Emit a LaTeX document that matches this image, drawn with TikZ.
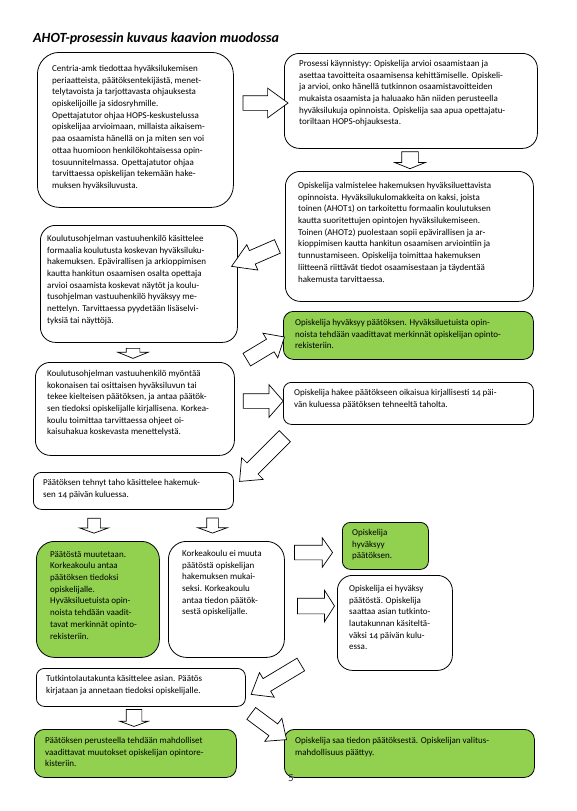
\documentclass[tikz,border=0pt]{standalone}
\usepackage{fontspec}
\setmainfont{Carlito}[Numbers=OldStyle]
\usetikzlibrary{shapes.arrows}
\definecolor{ahotgreen}{RGB}{146,208,80}
\definecolor{pagenum}{RGB}{40,45,80}

\begin{document}
\begin{tikzpicture}[x=1pt, y=-1pt,
  card/.style={draw, line width=0.8pt, rounded corners=#1, inner sep=0pt, anchor=north west},
  card/.default=14pt,
  txt/.style={inner sep=0pt, anchor=north west, align=left, font=\fontsize{9}{11.7}\selectfont},
  arr/.style={draw, fill=white, line width=0.7pt, single arrow, single arrow head indent=0pt, inner xsep=0pt, inner ysep=#1},
  arr/.default=7pt]
\useasboundingbox[fill=white] (0,0) rectangle (577,811);

\node[inner sep=0pt, anchor=base west, font=\fontsize{14}{16}\selectfont\bfseries\itshape] (title) at (33,42.5) {AHOT-prosessin kuvaus kaavion muodossa};

% boxes
\node[card=22pt, minimum width=196pt, minimum height=155pt] (centria) at (37,52) {};
\node[card=15pt, minimum width=253pt, minimum height=95pt] (start) at (284,53) {};
\node[card=15pt, minimum width=248pt, minimum height=130pt] (hakemus) at (285,171) {};
\node[card=15pt, minimum width=197pt, minimum height=117pt] (kasittely) at (40,225) {};
\node[card=15pt, minimum width=199pt, minimum height=93pt] (paatos) at (35,362) {};
\node[card=10pt, fill=ahotgreen, minimum width=250pt, minimum height=48pt] (hyvaksyy) at (283,311) {};
\node[card=8pt, minimum width=250pt, minimum height=42pt] (oikaisu) at (283,382) {};
\node[card=8pt, minimum width=200pt, minimum height=37pt] (taho) at (33,472) {};
\node[card=18pt, fill=ahotgreen, minimum width=123pt, minimum height=116pt] (muutetaan) at (36,541) {};
\node[card=18pt, minimum width=116pt, minimum height=116pt] (eimuuta) at (168,541) {};
\node[card=8pt, fill=ahotgreen, minimum width=86pt, minimum height=47pt] (hyvaksyytoinen) at (342,522) {};
\node[card=15pt, minimum width=115pt, minimum height=95pt] (eihyvaksy) at (337,575) {};
\node[card=8pt, minimum width=209pt, minimum height=38pt] (lautakunta) at (36,668) {};
\node[card=10pt, fill=ahotgreen, minimum width=202pt, minimum height=48pt] (rekisteri) at (34,729) {};
\node[card=10pt, fill=ahotgreen, minimum width=250pt, minimum height=48pt] (valitus) at (284,729) {};

% texts
\node[txt] (centriatext) at ([shift={(15,13)}]centria.north west) {Centria-amk tiedottaa hyväksilukemisen\\
periaatteista, päätöksentekijästä, menet-\\
telytavoista ja tarjottavasta ohjauksesta\\
opiskelijoille ja sidosryhmille.\\
Opettajatutor ohjaa HOPS-keskustelussa\\
opiskelijaa arvioimaan, millaista aikaisem-\\
paa osaamista hänellä on ja miten sen voi\\
ottaa huomioon henkilökohtaisessa opin-\\
tosuunnitelmassa. Opettajatutor ohjaa\\
tarvittaessa opiskelijan tekemään hake-\\
muksen hyväksiluvusta.};
\node[txt] (starttext) at ([shift={(15,7)}]start.north west) {Prosessi käynnistyy: Opiskelija arvioi osaamistaan ja\\
asettaa tavoitteita osaamisensa kehittämiselle. Opiskeli-\\
ja arvioi, onko hänellä tutkinnon osaamistavoitteiden\\
mukaista osaamista ja haluaako hän niiden perusteella\\
hyväksilukuja opinnoista. Opiskelija saa apua opettajatu-\\
toriltaan HOPS-ohjauksesta.};
\node[txt] (hakemustext) at ([shift={(13,11)}]hakemus.north west) {Opiskelija valmistelee hakemuksen hyväksiluettavista\\
opinnoista. Hyväksilukulomakkeita on kaksi, joista\\
toinen (AHOT1) on tarkoitettu formaalin koulutuksen\\
kautta suoritettujen opintojen hyväksilukemiseen.\\
Toinen (AHOT2) puolestaan sopii epävirallisen ja ar-\\
kioppimisen kautta hankitun osaamisen arviointiin ja\\
tunnustamiseen. Opiskelija toimittaa hakemuksen\\
liitteenä riittävät tiedot osaamisestaan ja täydentää\\
hakemusta tarvittaessa.};
\node[txt] (kasittelytext) at ([shift={(7,10)}]kasittely.north west) {Koulutusohjelman vastuuhenkilö käsittelee\\
formaalia koulutusta koskevan hyväksiluku-\\
hakemuksen. Epävirallisen ja arkioppimisen\\
kautta hankitun osaamisen osalta opettaja\\
arvioi osaamista koskevat näytöt ja koulu-\\
tusohjelman vastuuhenkilö hyväksyy me-\\
nettelyn. Tarvittaessa pyydetään lisäselvi-\\
tyksiä tai näyttöjä.};
\node[txt] (paatostext) at ([shift={(12,8)}]paatos.north west) {Koulutusohjelman vastuuhenkilö myöntää\\
kokonaisen tai osittaisen hyväksiluvun tai\\
tekee kielteisen päätöksen, ja antaa päätök-\\
sen tiedoksi opiskelijalle kirjallisena. Korkea-\\
koulu toimittaa tarvittaessa ohjeet oi-\\
kaisuhakua koskevasta menettelystä.};
\node[txt] (hyvaksyytext) at ([shift={(12,8)}]hyvaksyy.north west) {Opiskelija hyväksyy päätöksen. Hyväksiluetuista opin-\\
noista tehdään vaadittavat merkinnät opiskelijan opinto-\\
rekisteriin.};
\node[txt] (oikaisutext) at ([shift={(11,7)}]oikaisu.north west) {Opiskelija hakee päätökseen oikaisua kirjallisesti 14 päi-\\
vän kuluessa päätöksen tehneeltä taholta.};
\node[txt] (tahotext) at ([shift={(10,7)}]taho.north west) {Päätöksen tehnyt taho käsittelee hakemuk-\\
sen 14 päivän kuluessa.};
\node[txt] (muutetaantext) at ([shift={(14,10)}]muutetaan.north west) {Päätöstä muutetaan.\\
Korkeakoulu antaa\\
päätöksen tiedoksi\\
opiskelijalle.\\
Hyväksiluetuista opin-\\
noista tehdään vaadit-\\
tavat merkinnät opinto-\\
rekisteriin.};
\node[txt] (eimuutatext) at ([shift={(14,9)}]eimuuta.north west) {Korkeakoulu ei muuta\\
päätöstä opiskelijan\\
hakemuksen mukai-\\
seksi. Korkeakoulu\\
antaa tiedon päätök-\\
sestä opiskelijalle.};
\node[txt] (hyvaksyytoinentext) at ([shift={(10,7)}]hyvaksyytoinen.north west) {Opiskelija\\
hyväksyy\\
päätöksen.};
\node[txt] (eihyvaksytext) at ([shift={(12,10)}]eihyvaksy.north west) {Opiskelija ei hyväksy\\
päätöstä. Opiskelija\\
saattaa asian tutkinto-\\
lautakunnan käsiteltä-\\
väksi 14 päivän kulu-\\
essa.};
\node[txt] (lautakuntatext) at ([shift={(10,7)}]lautakunta.north west) {Tutkintolautakunta käsittelee asian. Päätös\\
kirjataan ja annetaan tiedoksi opiskelijalle.};
\node[txt] (rekisteritext) at ([shift={(11,8)}]rekisteri.north west) {Päätöksen perusteella tehdään mahdolliset\\
vaadittavat muutokset opiskelijan opintore-\\
kisteriin.};
\node[txt] (valitustext) at ([shift={(11,8)}]valitus.north west) {Opiskelija saa tiedon päätöksestä. Opiskelijan valitus-\\
mahdollisuus päättyy.};

% block arrows
\node[arr=7pt, minimum height=45pt, single arrow head extend=7.5pt, single arrow tip angle=72] (a1) at (260.5,103) {};
\node[arr=8pt, minimum height=17pt, single arrow head extend=7pt, single arrow tip angle=136, rotate=-90] (a2) at (410,158.5) {};
\node[arr=7pt, minimum height=50pt, single arrow head extend=6.5pt, single arrow tip angle=63, rotate=203.5] (a3) at (260,254) {};
\node[arr=6.5pt, minimum height=10pt, single arrow head extend=8.5pt, single arrow tip angle=136, rotate=-90] (a4) at (133,352) {};
\node[arr=7pt, minimum height=44pt, single arrow head extend=7pt, single arrow tip angle=82, rotate=31] (a5) at (262,350.5) {};
\node[arr=7pt, minimum height=40pt, single arrow head extend=9pt, single arrow tip angle=98] (a6) at (260,401) {};
\node[arr=7.5pt, minimum height=64pt, single arrow head extend=7.5pt, single arrow tip angle=80, rotate=225] (a7) at (265.5,455.5) {};
\node[arr=6pt, minimum height=15pt, single arrow head extend=8pt, single arrow tip angle=140, rotate=-90] (a8) at (94,524.5) {};
\node[arr=5.5pt, minimum height=15pt, single arrow head extend=8.5pt, single arrow tip angle=140, rotate=-90] (a9) at (212.5,524.5) {};
\node[arr=7pt, minimum height=38pt, single arrow head extend=7.5pt, single arrow tip angle=110] (a10) at (311,552.5) {};
\node[arr=7.5pt, minimum height=37pt, single arrow head extend=8pt, single arrow tip angle=115] (a11) at (313.5,606) {};
\node[arr=7pt, minimum height=58pt, single arrow head extend=7pt, single arrow tip angle=76, rotate=211] (a12) at (280,677) {};
\node[arr=7.5pt, minimum height=17pt, single arrow head extend=6.5pt, single arrow tip angle=140, rotate=-90] (a13) at (134,716.5) {};
\node[arr=7pt, minimum height=44pt, single arrow head extend=7pt, single arrow tip angle=82, rotate=-36.6] (a14) at (265.5,724) {};

\node[inner sep=0pt, text=pagenum, font=\fontsize{11}{13}\selectfont] (sivu) at (291,778.5) {5};
\end{tikzpicture}
\end{document}
